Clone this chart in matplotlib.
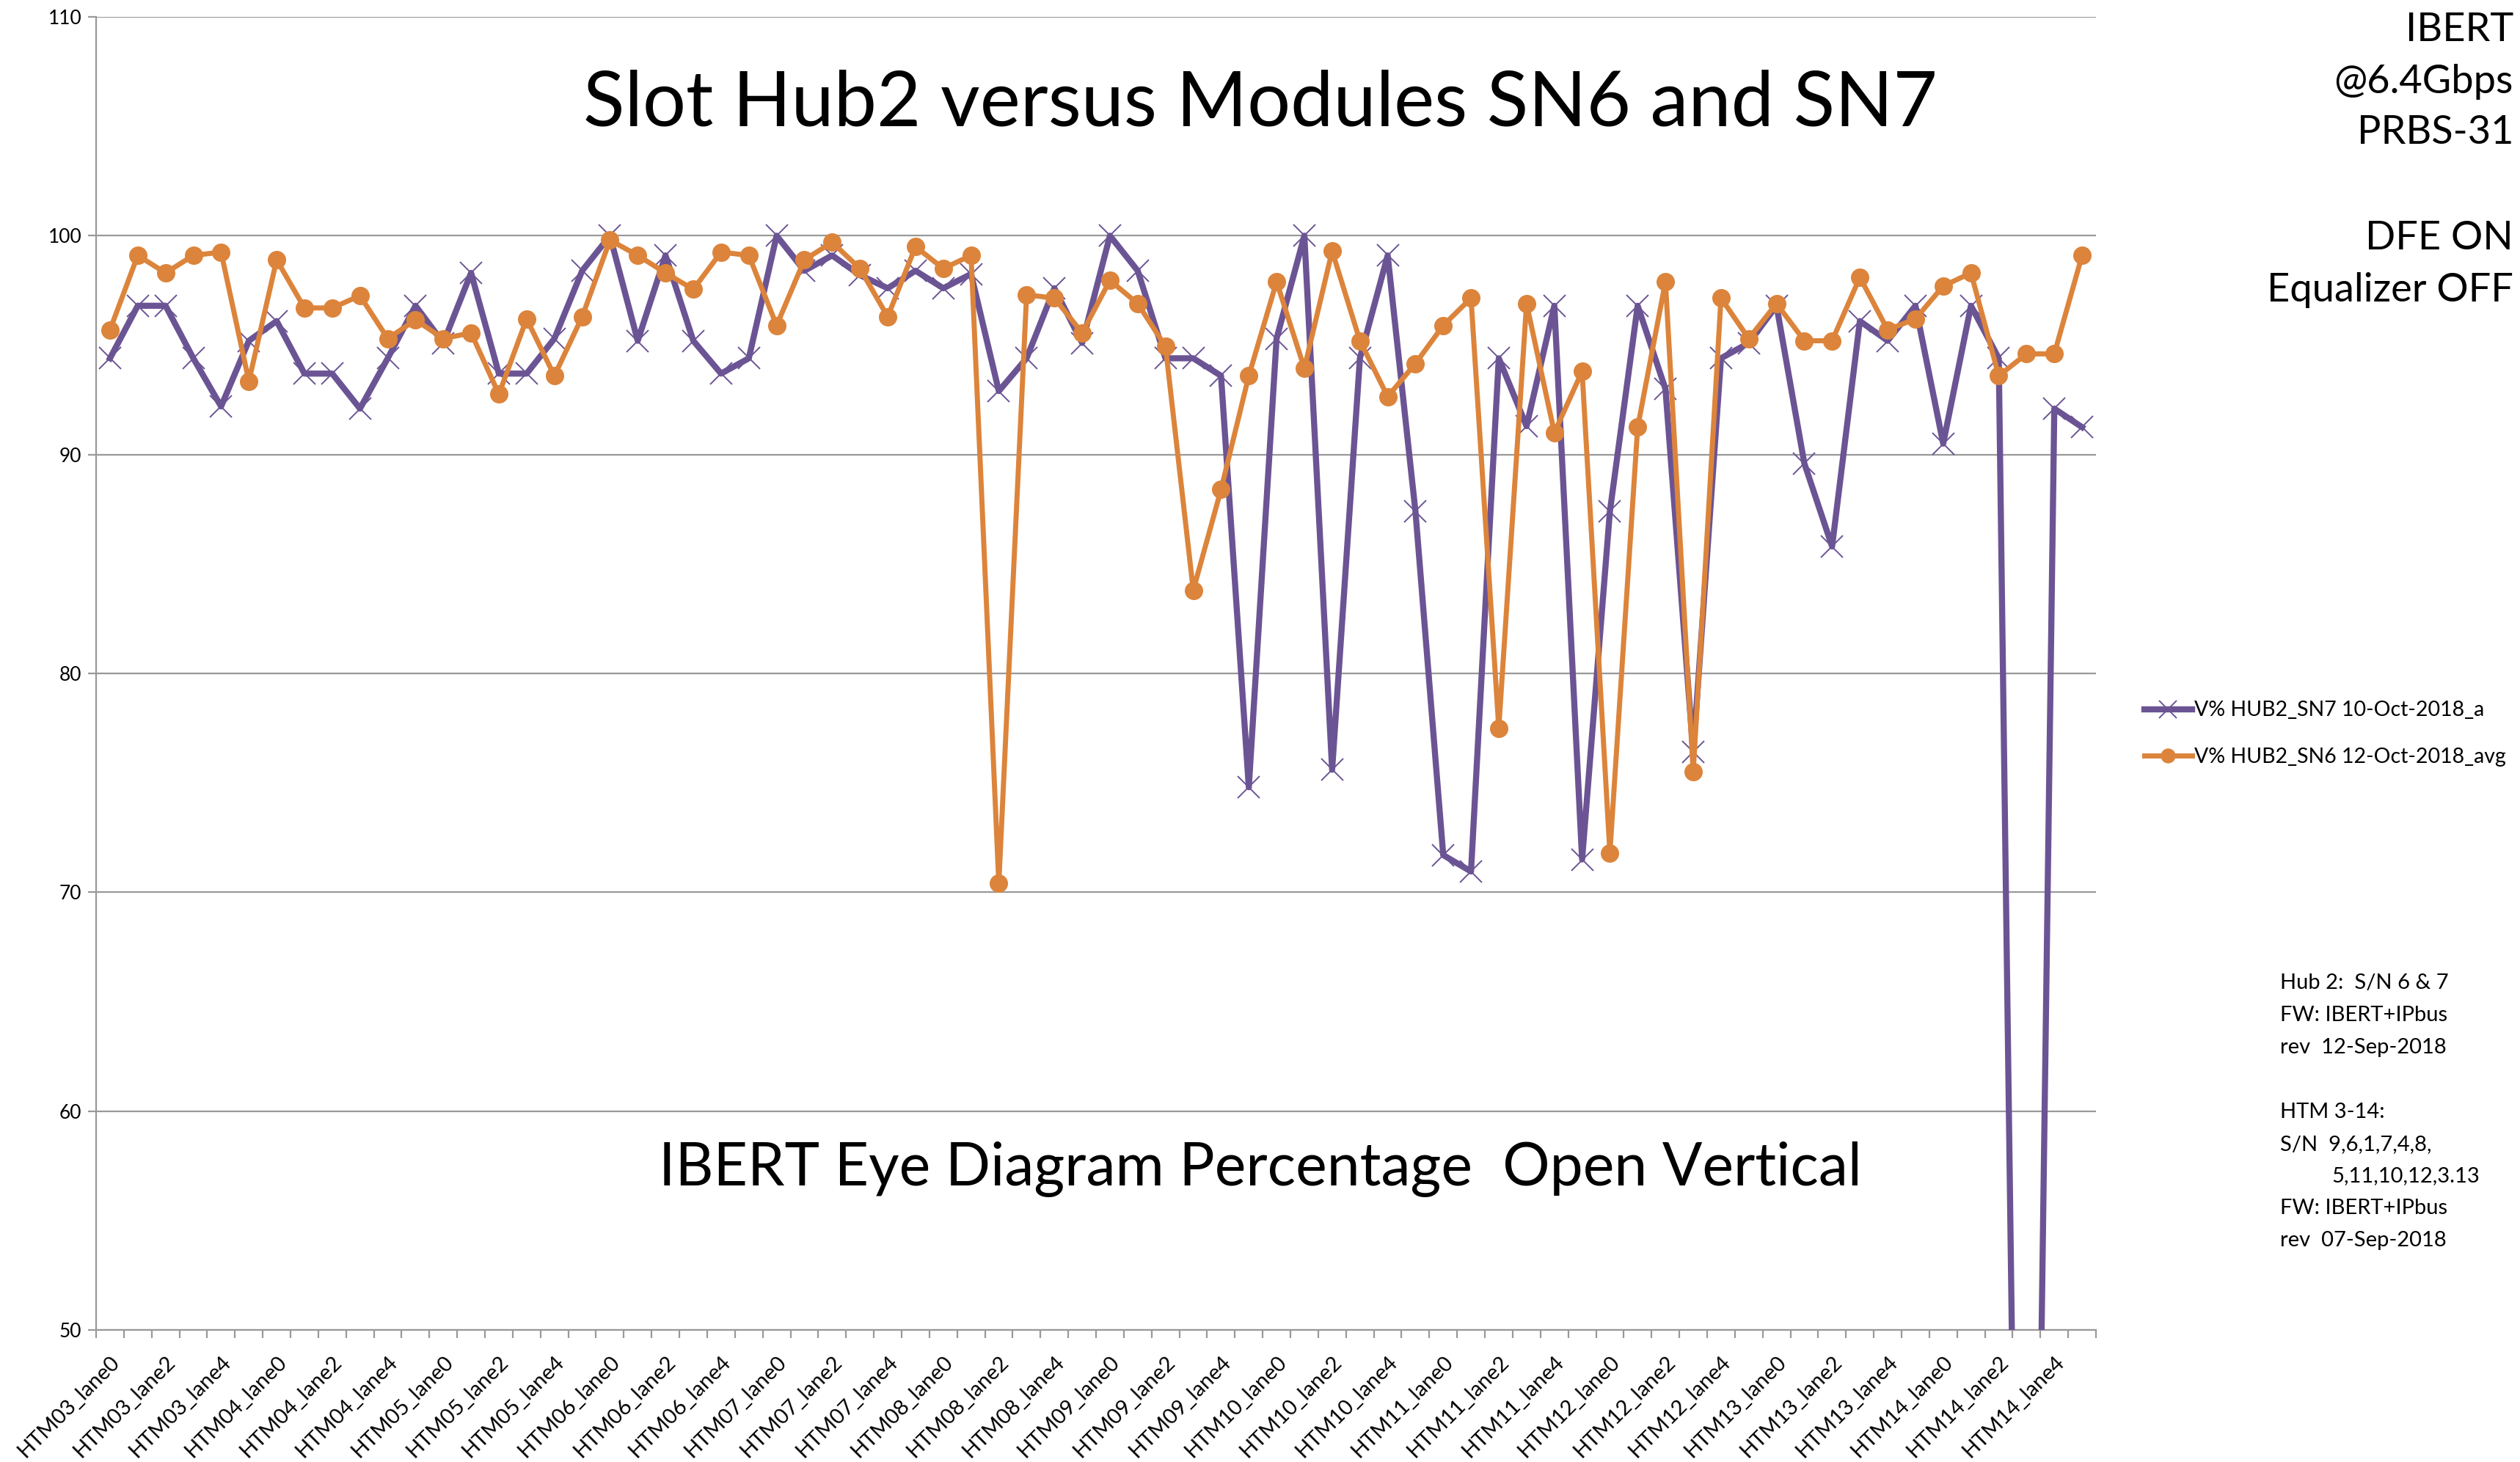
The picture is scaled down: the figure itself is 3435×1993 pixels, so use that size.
import matplotlib
matplotlib.use("Agg")
import matplotlib.pyplot as plt
import numpy as np

plt.rcParams['font.family'] = ['Lato', 'DejaVu Sans']

modules = ['HTM%02d' % m for m in range(3, 15)]
lanes = ['lane%d' % l for l in range(6)]
categories = [m + '_' + l for m in modules for l in lanes]

# V% HUB2_SN7 10-Oct-2018_a
sn7 = [94.4, 96.8, 96.8, 94.4, 92.2, 95.2,
       96.1, 93.7, 93.7, 92.1, 94.4, 96.8,
       95.1, 98.3, 93.7, 93.7, 95.3, 98.4,
       100.0, 95.2, 99.1, 95.2, 93.7, 94.4,
       100.0, 98.4, 99.1, 98.2, 97.6, 98.4,
       97.6, 98.25, 92.9, 94.4, 97.6, 95.1,
       100.0, 98.4, 94.4, 94.4, 93.6, 74.8,
       95.3, 100.0, 75.6, 94.4, 99.1, 87.4,
       71.7, 70.95, 94.4, 91.3, 96.8, 71.5,
       87.4, 96.8, 93.0, 76.4, 94.4, 95.1,
       96.8, 89.6, 85.8, 96.1, 95.2, 96.8,
       90.5, 96.8, 94.4, 0.0, 92.1, 91.25]

# V% HUB2_SN6 12-Oct-2018_avg
sn6 = [95.7, 99.1, 98.3, 99.1, 99.25, 93.35,
       98.9, 96.7, 96.7, 97.26, 95.3, 96.15,
       95.3, 95.56, 92.76, 96.2, 93.6, 96.3,
       99.8, 99.1, 98.3, 97.55, 99.25, 99.1,
       95.9, 98.9, 99.7, 98.5, 96.3, 99.5,
       98.5, 99.1, 70.4, 97.3, 97.15, 95.56,
       97.96, 96.9, 94.94, 83.8, 88.4, 93.6,
       97.9, 93.94, 99.3, 95.2, 92.65, 94.16,
       95.9, 97.15, 77.5, 96.9, 91.0, 93.8,
       71.8, 91.25, 97.9, 75.5, 97.15, 95.3,
       96.9, 95.2, 95.2, 98.1, 95.7, 96.2,
       97.7, 98.3, 93.6, 94.6, 94.6, 99.1]

W, H = 3435, 1993
fig = plt.figure(figsize=(W / 100, H / 100), dpi=100)
ax = fig.add_axes([131 / W, 1 - 1813 / H, (2857 - 131) / W, (1813 - 23) / H])

purple = '#6b5494'
orange = '#dc843b'
x = np.arange(len(categories))

ax.plot(x, sn7, color=purple, lw=6, marker='x', ms=21, mew=1.4,
        label='V% HUB2_SN7 10-Oct-2018_a', zorder=3)
ax.plot(x, sn6, color=orange, lw=5, marker='o', ms=17,
        label='V% HUB2_SN6 12-Oct-2018_avg', zorder=4)

ax.set_xlim(-0.5, len(categories) - 0.5)
ax.set_ylim(50, 110)
ax.set_yticks(np.arange(50, 111, 10))
ax.grid(axis='y', color='#999999', lw=1.6)
ax.set_axisbelow(True)
for s in ['top', 'right']:
    ax.spines[s].set_visible(False)
for s in ['left', 'bottom']:
    ax.spines[s].set_color('#999999')
    ax.spines[s].set_linewidth(1.6)

ax.set_xticks(x[::2])
ax.set_xticklabels(categories[::2], rotation=45, ha='right',
                   rotation_mode='anchor', fontsize=21)
ax.tick_params(axis='x', length=0, pad=22)
ax.set_xticks(np.arange(-0.5, len(categories), 1), minor=True)
ax.tick_params(axis='x', which='minor', length=8, width=1.6, color='#999999')
ax.tick_params(axis='y', length=8, width=1.6, color='#999999', labelsize=19, pad=6)

fig.text(0.5, 1 - 142 / H, 'Slot Hub2 versus Modules SN6 and SN7',
         ha='center', va='center', fontsize=75)
fig.text(0.5, 1 - 1594 / H, 'IBERT Eye Diagram Percentage  Open Vertical',
         ha='center', va='center', fontsize=58)

for txt, yy in [('IBERT', 41), ('@6.4Gbps', 111), ('PRBS-31', 181),
                ('DFE ON', 325), ('Equalizer OFF', 395)]:
    fig.text(3426 / W, 1 - yy / H, txt, ha='right', va='center', fontsize=39)

notes = [('Hub 2:  S/N 6 & 7', 1340, 3108), ('FW: IBERT+IPbus', 1384, 3108),
         ('rev  12-Sep-2018', 1428, 3108), ('HTM 3-14:', 1516, 3108),
         ('S/N  9,6,1,7,4,8,', 1560, 3108), ('5,11,10,12,3.13', 1603, 3178),
         ('FW: IBERT+IPbus', 1647, 3108), ('rev  07-Sep-2018', 1691, 3108)]
for txt, yy, xx in notes:
    fig.text(xx / W, 1 - yy / H, txt, ha='left', va='center', fontsize=21)

fig.legend(loc='center left', bbox_to_anchor=(2897 / W, 1 - 1000 / H),
           frameon=False, fontsize=20.5, handlelength=2.3, handletextpad=0.1,
           labelspacing=1.3, markerscale=0.8)

fig.savefig('out.png', dpi=100)
